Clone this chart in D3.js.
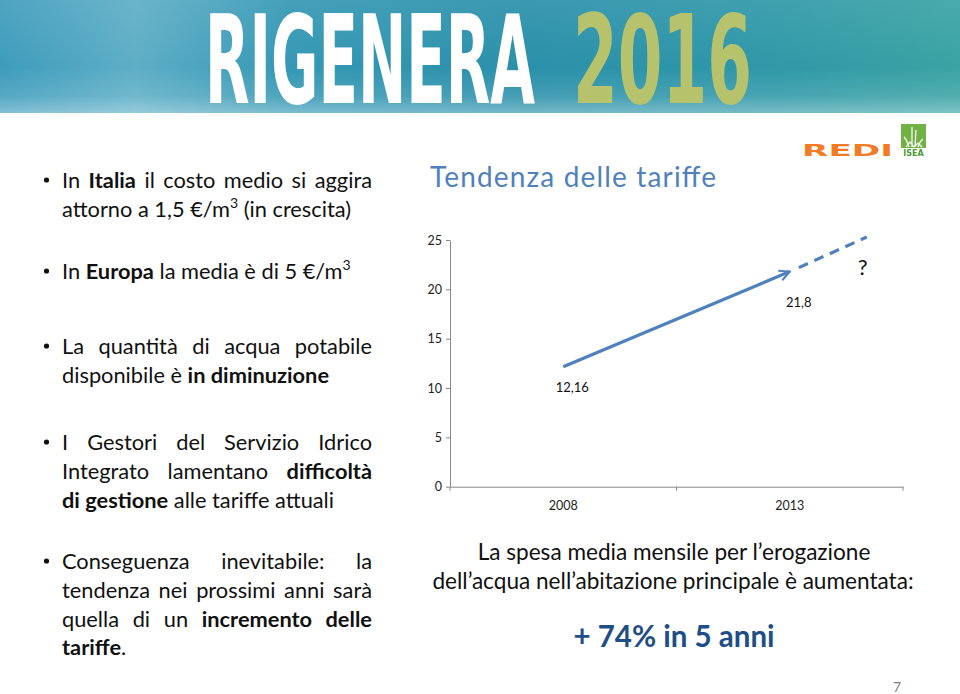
<!DOCTYPE html>
<html><head><meta charset="utf-8">
<script src="https://cdn.jsdelivr.net/npm/d3@7"></script>
<style>
html,body{margin:0;padding:0;background:#fff;}
svg{display:block;}
</style></head>
<body>
<svg id="c" width="960" height="694"></svg>
<script>
// ---------- data ----------
const categories = ["2008", "2013"];
const years = [2008, 2013];
const values = [12.16, 21.8];
const valueLabels = ["12,16", "21,8"];
const projectionYears = [2013.2, 2014.7];
const projectionValues = [22.2, 25.3];
const yTicks = [0, 5, 10, 15, 20, 25];
const chartTitle = "Tendenza delle tariffe";
const headerWord = "RIGENERA";
const headerYear = "2016";

const FONT = "Lato, 'Open Sans', 'Liberation Sans', sans-serif";
const svg = d3.select("#c");
const defs = svg.append("defs");

// ---------- header ----------
const hg = defs.append("linearGradient").attr("id","hg").attr("x1","0").attr("x2","1").attr("y1","0").attr("y2","0");
[[0,"#3e9cbc"],[0.14,"#5eaec6"],[0.3,"#3598b4"],[0.55,"#2a90aa"],[0.8,"#2f98a8"],[1,"#3aa3a3"]]
  .forEach(([o,c])=>hg.append("stop").attr("offset",o).attr("stop-color",c));
const vg = defs.append("linearGradient").attr("id","vg").attr("x1","0").attr("x2","0").attr("y1","0").attr("y2","1");
[[0,"#ffffff",0.08],[0.6,"#ffffff",0],[0.85,"#ffffff",0.12],[1,"#ffffff",0.35]]
  .forEach(([o,c,a])=>vg.append("stop").attr("offset",o).attr("stop-color",c).attr("stop-opacity",a));
svg.append("rect").attr("x",0).attr("y",0).attr("width",960).attr("height",113).attr("fill","url(#hg)");
svg.append("rect").attr("x",0).attr("y",0).attr("width",960).attr("height",113).attr("fill","url(#vg)");

function headerText(str, x0, x1, color){
  const fsz = 92;
  const t = svg.append("text").text(str).attr("x",0).attr("y",0)
    .attr("font-family","'DejaVu Sans Condensed','DejaVu Sans',sans-serif")
    .attr("font-weight","bold").attr("font-size",fsz).attr("fill",color);
  const w = t.node().getComputedTextLength();
  const sx = (x1-x0)/w, sy = 90/(fsz*0.73);
  t.attr("transform",`translate(${x0},103) scale(${sx},${sy})`);
}
headerText(headerWord, 205, 535, "#ffffff");
headerText(headerYear, 573, 752, "#b7c36c");

// ---------- logos ----------
svg.append("text").text("REDI").attr("x",802).attr("y",156)
  .attr("font-family","'DejaVu Sans',sans-serif").attr("font-weight","bold").attr("font-size",16)
  .attr("fill","#f27b25").attr("textLength",91).attr("lengthAdjust","spacingAndGlyphs");
svg.append("rect").attr("x",901).attr("y",124).attr("width",25).attr("height",24).attr("fill","#72b244");
const plant = svg.append("g").attr("stroke","#ffffff").attr("stroke-width",1.2).attr("fill","none");
plant.append("path").attr("d","M912 147 L912 127 M915 147 L916 130 M909 147 Q907 140 904 137 M918 147 Q920 141 923 139 M906 147 L910 142 L914 147 M914 147 L918 143 L922 147");
svg.append("text").text("ISEA").attr("x",913.5).attr("y",156).attr("text-anchor","middle")
  .attr("font-family","'DejaVu Sans',sans-serif").attr("font-weight","bold").attr("font-size",8)
  .attr("fill","#4d9a3a");

// ---------- left bullet text ----------
const leftX = 62, rightX = 372, fs = 21.8;
const paragraphs = [
  {y:188, lines:[
    {j:true, parts:[["In ",0],["Italia",1],[" il costo medio si aggira",0]]},
    {j:false, parts:[["attorno a 1,5 €/m",0],["3",2],[" (in crescita)",0]]}]},
  {y:279, lines:[
    {j:false, parts:[["In ",0],["Europa",1],[" la media è di 5 €/m",0],["3",2]]}]},
  {y:354, lines:[
    {j:true, parts:[["La quantità di acqua potabile",0]]},
    {j:false, parts:[["disponibile è ",0],["in diminuzione",1]]}]},
  {y:450, lines:[
    {j:true, parts:[["I Gestori del Servizio Idrico",0]]},
    {j:true, parts:[["Integrato lamentano ",0],["difficoltà",1]]},
    {j:false, parts:[["di gestione",1],[" alle tariffe attuali",0]]}]},
  {y:569, lines:[
    {j:true, parts:[["Conseguenza inevitabile: la",0]]},
    {j:true, parts:[["tendenza nei prossimi anni sarà",0]]},
    {j:true, parts:[["quella di un ",0],["incremento delle",1]]},
    {j:false, parts:[["tariffe",1],[".",0]]}]}
];
const lh = 28.8;
paragraphs.forEach(p=>{
  svg.append("circle").attr("cx",46.5).attr("cy",p.y-8).attr("r",2.6).attr("fill","#111");
  p.lines.forEach((ln,i)=>{
    const t = svg.append("text").attr("x",leftX).attr("y",p.y+i*lh)
      .attr("font-family",FONT).attr("font-size",fs).attr("fill","#111")
      .style("white-space","pre");
    ln.parts.forEach(([s,k],idx)=>{
      const ts = t.append("tspan").text(s);
      if(k===1) ts.attr("font-weight","bold");
      if(k===2) ts.attr("font-size",14).attr("dy",-9);
      const prev = ln.parts[idx-1];
      if(prev && prev[1]===2) ts.attr("dy",9);
    });
    if(ln.j){
      const w = t.node().getComputedTextLength();
      const txt = ln.parts.map(q=>q[0]).join("");
      const spaces = (txt.match(/ /g)||[]).length;
      if(spaces>0) t.attr("word-spacing",((rightX-leftX)-w)/spaces);
    }
  });
});

// ---------- chart ----------
svg.append("text").text(chartTitle).attr("x",430).attr("y",187)
  .attr("font-family",FONT).attr("font-size",28).attr("fill","#4f81bd")
  .attr("textLength",286).attr("lengthAdjust","spacing");

const x = d3.scaleBand().domain(categories).range([450,903]).padding(0);
const xYear = d3.scaleLinear().domain(d3.extent(years))
  .range([x(categories[0])+x.bandwidth()/2, x(categories[categories.length-1])+x.bandwidth()/2]);
const y = d3.scaleLinear().domain([0,25]).range([486.7,240]);

const gy = svg.append("g").attr("transform","translate(450,0)")
  .call(d3.axisLeft(y).tickValues(yTicks).tickSize(4).tickSizeOuter(0).tickPadding(4).tickFormat(d3.format("d")));
const gx = svg.append("g").attr("transform",`translate(0,${y(0)})`)
  .call(d3.axisBottom(x).tickSize(0).tickSizeOuter(0).tickPadding(14));
const bounds = categories.map(c=>x(c)).concat([x.range()[1]]);
gx.selectAll("line.bt").data(bounds).enter().append("line").attr("class","bt")
  .attr("x1",d=>d).attr("x2",d=>d).attr("y1",0).attr("y2",4);
[gy,gx].forEach(g=>{
  g.selectAll("path,line").attr("stroke","#888888").attr("stroke-width",1);
  g.selectAll("text").attr("font-family",FONT).attr("font-size",12.5).attr("fill","#222");
});

defs.append("marker").attr("id","arr").attr("viewBox","0 0 10 10").attr("refX",9).attr("refY",5)
  .attr("markerWidth",4).attr("markerHeight",4).attr("orient","auto").attr("markerUnits","strokeWidth")
  .append("path").attr("d","M1 1 L9 5 L1 9").attr("fill","none").attr("stroke","#4f81bd").attr("stroke-width",1.6);

const line = d3.line().x(d=>xYear(d[0])).y(d=>y(d[1]));
svg.append("path").datum(years.map((yr,i)=>[yr,values[i]]))
  .attr("d",line).attr("fill","none").attr("stroke","#4f81bd").attr("stroke-width",3.2)
  .attr("marker-end","url(#arr)");
svg.append("path").datum(projectionYears.map((yr,i)=>[yr,projectionValues[i]]))
  .attr("d",line).attr("fill","none").attr("stroke","#4f81bd").attr("stroke-width",3.2)
  .attr("stroke-dasharray","10,7");

const labelDy = [25, 35];
svg.selectAll("text.vl").data(valueLabels).enter().append("text").attr("class","vl")
  .text(d=>d).attr("x",(d,i)=>xYear(years[i])+9).attr("y",(d,i)=>y(values[i])+labelDy[i])
  .attr("text-anchor","middle").attr("font-family",FONT).attr("font-size",13).attr("fill","#111");
svg.append("text").text("?")
  .attr("x",xYear(projectionYears[1])-4).attr("y",y(projectionValues[1])+38)
  .attr("text-anchor","middle").attr("font-family",FONT).attr("font-size",22).attr("fill","#111");

// ---------- bottom text ----------
svg.append("text").text("La spesa media mensile per l’erogazione").attr("x",674).attr("y",560)
  .attr("text-anchor","middle").attr("font-family",FONT).attr("font-size",22.6).attr("fill","#111");
svg.append("text").text("dell’acqua nell’abitazione principale è aumentata:").attr("x",673).attr("y",589)
  .attr("text-anchor","middle").attr("font-family",FONT).attr("font-size",22.6).attr("fill","#111");
svg.append("text").text("+ 74% in 5 anni").attr("x",674).attr("y",647)
  .attr("text-anchor","middle").attr("font-family",FONT).attr("font-weight","bold").attr("font-size",29.5).attr("fill","#1f4e86");
svg.append("text").text("7").attr("x",897).attr("y",692)
  .attr("text-anchor","middle").attr("font-family",FONT).attr("font-size",14).attr("fill","#7f7f7f");
</script>
</body></html>
